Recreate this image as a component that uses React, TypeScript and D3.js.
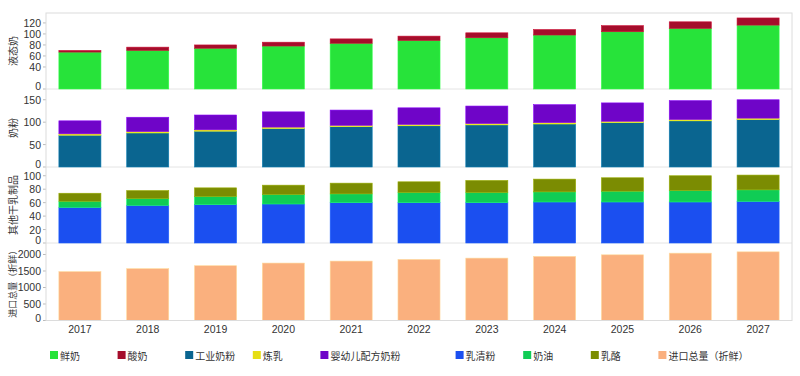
import React from "react";
import * as d3 from "d3";

const years = ["2017","2018","2019","2020","2021","2022","2023","2024","2025","2026","2027"];
// Panel 1: 液态奶
const freshMilk = [67,70,74,78,83,88,93,98,104,110,116];
const yogurt = [3,6,6,7,8,8,9,10,11,12,13];
// Panel 2: 奶粉
const industrialPowder = [71,76,80,86,90,92,94,96,99,103,106];
const condensedMilk = [3,3,3,3,3,3,3,3,3,3,3];
const infantFormula = [29,32,33,34,34,37,39,40,41,42,41];
// Panel 3: 其他干乳制品
const wheyPowder = [53,56,57,58,60,60,60,61,61,61,62];
const cream = [9,10,12,14,13,15,15,15,16,17,17];
const cheese = [12,12,13,14,16,16,18,19,20,22,22];
// Panel 4: 进口总量（折鲜）
const importTotal = [1480,1570,1660,1740,1800,1850,1890,1940,1990,2040,2080];

const ticks1 = [0,40,60,80,100,120];
const ticks2 = [0,50,100,150];
const ticks3 = [0,20,40,60,80,100];
const ticks4 = [0,500,1000,1500,2000];

const C = {
  fresh: "#27e33a",
  yogurt: "#a50d2b",
  industrial: "#0a6590",
  condensed: "#e6de14",
  infant: "#6f05c8",
  whey: "#1b4ff0",
  cream: "#10cc55",
  cheese: "#7b8c02",
  imports: "#fab07e",
};

const legendItems: [string, string][] = [
  ["鲜奶", C.fresh],
  ["酸奶", C.yogurt],
  ["工业奶粉", C.industrial],
  ["炼乳", C.condensed],
  ["婴幼儿配方奶粉", C.infant],
  ["", ""],
  ["乳清粉", C.whey],
  ["奶油", C.cream],
  ["乳酪", C.cheese],
  ["进口总量（折鲜）", C.imports],
];

const W = 800, H = 376;
const left = 46, right = 792;
const CJK = "'Noto Sans CJK SC', sans-serif";
const NUM = "'Liberation Sans', Arial, sans-serif";

type Panel = {
  label: string;
  labelSize: number;
  top: number;
  bottom: number;
  max: number;
  ticks: number[];
  series: { values: number[]; color: string }[];
};

const panels: Panel[] = [
  { label: "液态奶", labelSize: 10, top: 13, bottom: 89, max: 138, ticks: ticks1,
    series: [{ values: freshMilk, color: C.fresh }, { values: yogurt, color: C.yogurt }] },
  { label: "奶粉", labelSize: 10, top: 89, bottom: 167, max: 174, ticks: ticks2,
    series: [{ values: industrialPowder, color: C.industrial }, { values: condensedMilk, color: C.condensed }, { values: infantFormula, color: C.infant }] },
  { label: "其他干乳制品", labelSize: 10, top: 167, bottom: 243, max: 113, ticks: ticks3,
    series: [{ values: wheyPowder, color: C.whey }, { values: cream, color: C.cream }, { values: cheese, color: C.cheese }] },
  { label: "进口总量（折鲜）", labelSize: 9, top: 243, bottom: 320.5, max: 2348, ticks: ticks4,
    series: [{ values: importTotal, color: C.imports }] },
];

export default function App() {
  const x = d3.scaleBand<string>().domain(years).range([left, right]).paddingInner(0.38).paddingOuter(0.19);

  return (
    <svg width={W} height={H} style={{ position: "absolute", left: 0, top: 0, background: "#fff" }}>
      <rect x={0} y={0} width={W} height={H} fill="#fff" />
      {panels.map((p, pi) => {
        const y = d3.scaleLinear().domain([0, p.max]).range([p.bottom, p.top]);
        const stackData = years.map((_, i) => {
          const o: any = {};
          p.series.forEach((s, si) => (o["s" + si] = s.values[i]));
          return o;
        });
        const stacked = d3.stack<any>().keys(p.series.map((_, si) => "s" + si))(stackData);
        const midY = (p.top + p.bottom) / 2;
        return (
          <g key={pi}>
            <line x1={left} x2={right} y1={p.bottom} y2={p.bottom} stroke="#e4e4e4" strokeWidth={1} />
            {stacked.map((layer, li) => (
              <g key={li}>
                {layer.map((d, i) => (
                  <rect key={i}
                    x={x(years[i])!}
                    width={x.bandwidth()}
                    y={y(d[1])}
                    height={Math.max(0, y(d[0]) - y(d[1]))}
                    fill={p.series[li].color}
                    stroke={d3.color(p.series[li].color)!.brighter(0.6).toString()}
                    strokeWidth={0.6}
                  />
                ))}
              </g>
            ))}
            {p.ticks.map((t) => (
              <g key={t}>
                <line x1={left - 3} x2={left} y1={y(t)} y2={y(t)} stroke="#bbb" />
                <text x={left - 5} y={y(t) - (t === 0 ? 3 : 0)} textAnchor="end" dominantBaseline="central"
                  fontFamily={NUM} fontSize={10.5} fill="#333">{t}</text>
              </g>
            ))}
            <text transform={`translate(12,${midY}) rotate(-90)`} textAnchor="middle" dominantBaseline="central"
              fontFamily={CJK} fontSize={p.labelSize} fill="#333">{p.label}</text>
          </g>
        );
      })}
      <rect x={left} y={13} width={right - left} height={320.5 - 13} fill="none" stroke="#dcdcdc" strokeWidth={1} />
      {years.map((yr) => (
        <text key={yr} x={x(yr)! + x.bandwidth() / 2} y={329} textAnchor="middle" dominantBaseline="central"
          fontFamily={NUM} fontSize={10.5} fill="#333">{yr}</text>
      ))}
      {legendItems.map(([name, color], i) => {
        if (!name) return null;
        const lx = 50 + i * 67.6;
        return (
          <g key={name}>
            <rect x={lx} y={351} width={8} height={8} fill={color} />
            <text x={lx + 10} y={355.5} dominantBaseline="central" fontFamily={CJK} fontSize={10} fill="#333">{name}</text>
          </g>
        );
      })}
    </svg>
  );
}
